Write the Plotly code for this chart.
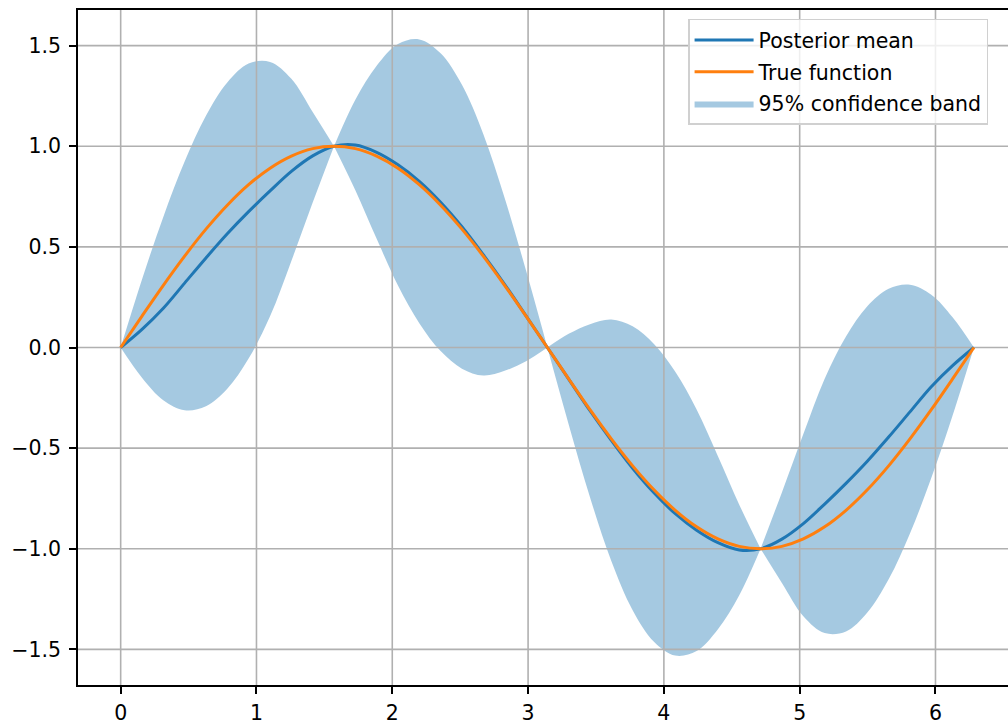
import plotly.graph_objects as go

# ---- data ----
x_vals = [0.000, 0.157, 0.314, 0.471, 0.628, 0.785, 0.942, 1.100, 1.257, 1.414, 1.571,
          1.728, 1.885, 2.042, 2.199, 2.356, 2.513, 2.670, 2.827, 2.985, 3.142,
          3.299, 3.456, 3.613, 3.770, 3.927, 4.084, 4.241, 4.398, 4.555, 4.712,
          4.869, 5.027, 5.184, 5.341, 5.498, 5.655, 5.812, 5.969, 6.126, 6.283]

posterior_mean = [0.000, 0.090, 0.195, 0.320, 0.445, 0.565, 0.675, 0.778, 0.875, 0.952, 1.000,
                  1.006, 0.970, 0.908, 0.826, 0.722, 0.600, 0.461, 0.314, 0.157, 0.000,
                  -0.157, -0.314, -0.461, -0.600, -0.722, -0.826, -0.908, -0.970, -1.006, -1.000,
                  -0.952, -0.875, -0.778, -0.675, -0.565, -0.445, -0.320, -0.195, -0.090, 0.000]

true_function = [0.000, 0.156, 0.309, 0.454, 0.588, 0.707, 0.809, 0.891, 0.951, 0.988, 1.000,
                 0.988, 0.951, 0.891, 0.809, 0.707, 0.588, 0.454, 0.309, 0.156, 0.000,
                 -0.156, -0.309, -0.454, -0.588, -0.707, -0.809, -0.891, -0.951, -0.988, -1.000,
                 -0.988, -0.951, -0.891, -0.809, -0.707, -0.588, -0.454, -0.309, -0.156, 0.000]

band_upper = [0.000, 0.338, 0.649, 0.924, 1.152, 1.317, 1.411, 1.419, 1.335, 1.170, 1.000,
              1.231, 1.400, 1.508, 1.531, 1.462, 1.305, 1.061, 0.744, 0.382, 0.000,
              0.068, 0.116, 0.139, 0.105, 0.018, -0.121, -0.308, -0.540, -0.781, -1.000,
              -0.720, -0.430, -0.155, 0.055, 0.205, 0.292, 0.312, 0.262, 0.150, 0.000]

band_lower = [0.000, -0.150, -0.262, -0.312, -0.292, -0.205, -0.055, 0.155, 0.430, 0.720, 1.000,
              0.781, 0.540, 0.308, 0.121, -0.018, -0.105, -0.139, -0.116, -0.068, 0.000,
              -0.382, -0.744, -1.061, -1.305, -1.462, -1.531, -1.508, -1.400, -1.231, -1.000,
              -1.170, -1.335, -1.419, -1.411, -1.317, -1.152, -0.924, -0.649, -0.338, 0.000]

# observation points split the band into pinched segments (indices)
segment_bounds = [0, 10, 20, 30, 40]

x_ticks = [0, 1, 2, 3, 4, 5, 6]
x_ticktext = ["0", "1", "2", "3", "4", "5", "6"]
y_ticks = [-1.5, -1.0, -0.5, 0.0, 0.5, 1.0, 1.5]
y_ticktext = ["\u22121.5", "\u22121.0", "\u22120.5", "0.0", "0.5", "1.0", "1.5"]

# ---- styling ----
BLUE = "#1f77b4"
ORANGE = "#ff7f0e"
BAND = "rgba(31,119,180,0.4)"
GRID = "#b0b0b0"
FONT = "DejaVu Sans"
FS = 20.5
X_RANGE = [-0.3142, 6.534]
Y_RANGE = [-1.677, 1.677]

fig = go.Figure()

# confidence band, one pinched segment at a time
for s in range(len(segment_bounds) - 1):
    a, b = segment_bounds[s], segment_bounds[s + 1] + 1
    fig.add_trace(go.Scatter(
        x=x_vals[a:b], y=band_lower[a:b], mode="lines",
        line=dict(width=0, shape="spline", color=BAND),
        showlegend=False, hoverinfo="skip", legendgroup="band"))
    fig.add_trace(go.Scatter(
        x=x_vals[a:b], y=band_upper[a:b], mode="lines",
        line=dict(width=0, shape="spline", color=BAND),
        fill="tonexty", fillcolor=BAND,
        name="95% confidence band", legendgroup="band", legendrank=3,
        showlegend=(s == 0), hoverinfo="skip"))

# grid lines (drawn above the band, below the curves, as in the reference)
gx, gy = [], []
for t in x_ticks:
    gx += [t, t, None]
    gy += [Y_RANGE[0], Y_RANGE[1], None]
for t in y_ticks:
    gx += [X_RANGE[0], X_RANGE[1], None]
    gy += [t, t, None]
fig.add_trace(go.Scatter(x=gx, y=gy, mode="lines",
                         line=dict(color=GRID, width=1.6),
                         showlegend=False, hoverinfo="skip"))

fig.add_trace(go.Scatter(x=x_vals, y=posterior_mean, mode="lines",
                         line=dict(color=BLUE, width=3, shape="spline"),
                         name="Posterior mean", legendgroup="mean", legendrank=1))
fig.add_trace(go.Scatter(x=x_vals, y=true_function, mode="lines",
                         line=dict(color=ORANGE, width=3, shape="spline"),
                         name="True function", legendgroup="true", legendrank=2))

axis_common = dict(showgrid=False, zeroline=False, showline=True,
                   linecolor="black", linewidth=1.6,
                   ticks="outside", ticklen=7, tickwidth=1.6, tickcolor="black",
                   tickfont=dict(family=FONT, size=FS, color="black"))

fig.update_layout(
    width=1008, height=725,
    margin=dict(l=78, r=0, t=10, b=35),
    plot_bgcolor="white", paper_bgcolor="white",
    font=dict(family=FONT, size=FS, color="black"),
    xaxis=dict(range=X_RANGE, tickvals=x_ticks, ticktext=x_ticktext,
               mirror=True, ticklabelstandoff=2, **axis_common),
    yaxis=dict(range=Y_RANGE, tickvals=y_ticks, ticktext=y_ticktext,
               ticklabelstandoff=4, **axis_common),
    legend=dict(x=0.656, xanchor="left", y=0.987, yanchor="top",
                bgcolor="rgba(255,255,255,0.8)", bordercolor="#d0d0d0",
                borderwidth=1.5, font=dict(family=FONT, size=FS, color="black"),
                traceorder="grouped", tracegroupgap=2,
                itemwidth=59, entrywidth=263),
    showlegend=True,
)

fig.write_html("out.html",
               config={"displayModeBar": False},
               post_script="document.body.style.margin='0px';"
                           "document.body.style.overflow='hidden';")
